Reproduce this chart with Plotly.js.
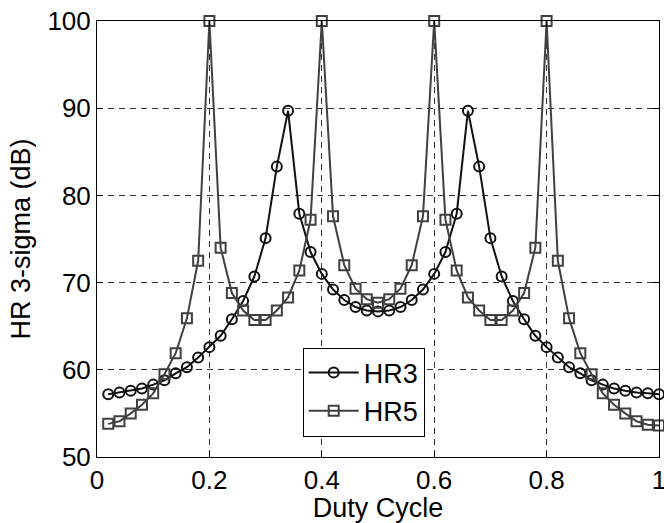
<!DOCTYPE html>
<html>
<head>
<meta charset="utf-8">
<script src="https://cdn.plot.ly/plotly-3.0.1.min.js"></script>
<style>html,body{margin:0;padding:0;background:#fff;}#chart{width:664px;height:523px;}</style>
</head>
<body>
<div id="chart"></div>
<script>
const dutyCycle = [0.02,0.04,0.06,0.08,0.10,0.12,0.14,0.16,0.18,0.20,
  0.22,0.24,0.26,0.28,0.30,0.32,0.34,0.36,0.38,0.40,
  0.42,0.44,0.46,0.48,0.50,0.52,0.54,0.56,0.58,0.60,
  0.62,0.64,0.66,0.68,0.70,0.72,0.74,0.76,0.78,0.80,
  0.82,0.84,0.86,0.88,0.90,0.92,0.94,0.96,0.98,1.00];
const hr3 = [57.2,57.4,57.6,57.85,58.3,58.8,59.6,60.3,61.4,62.6,
  63.9,65.8,67.9,70.7,75.1,83.3,89.7,77.9,73.5,71.0,
  69.2,68.0,67.2,66.8,66.7,66.8,67.2,68.0,69.2,71.0,
  73.5,77.9,89.7,83.3,75.1,70.7,67.9,65.8,63.9,62.6,
  61.4,60.3,59.6,58.8,58.3,57.85,57.6,57.4,57.3,57.2];
const hr5 = [53.8,54.1,55.0,56.0,57.3,59.5,61.9,65.9,72.5,100,
  74.0,68.8,66.8,65.7,65.7,66.8,68.3,71.4,77.2,100,
  77.6,72.0,69.3,68.1,67.7,68.1,69.3,72.0,77.6,100,
  77.2,71.4,68.3,66.8,65.7,65.7,66.8,68.8,74.0,100,
  72.5,65.9,61.9,59.5,57.3,56.0,55.0,54.1,53.7,53.6];
const seriesNames = ['HR3','HR5'];
const xTicks = [0,0.2,0.4,0.6,0.8,1];
const yTicks = [50,60,70,80,90,100];

const FONT = 'Arial, "Liberation Sans", sans-serif';
const traces = [
  {x: dutyCycle, y: hr3, name: seriesNames[0], type: 'scatter', mode: 'lines+markers',
   cliponaxis: false,
   line: {color: '#111111', width: 2},
   marker: {symbol: 'circle-open', size: 10, color: '#111111', line: {width: 2, color: '#111111'}}},
  {x: dutyCycle, y: hr5, name: seriesNames[1], type: 'scatter', mode: 'lines+markers',
   cliponaxis: false,
   line: {color: '#404040', width: 2},
   marker: {symbol: 'square-open', size: 10, color: '#404040', line: {width: 2, color: '#404040'}}}
];
const layout = {
  width: 664, height: 523,
  margin: {l: 97, r: 5, t: 21, b: 66},
  paper_bgcolor: '#fff', plot_bgcolor: '#fff',
  font: {family: FONT, size: 26, color: '#000'},
  showlegend: true,
  legend: {x: 0.366, y: 0.251, xanchor: 'left', yanchor: 'top',
    bgcolor: '#fff', bordercolor: '#000', borderwidth: 1, itemwidth: 50,
    font: {family: FONT, size: 27, color: '#000'}, tracegroupgap: 0},
  xaxis: {range: [0, 1], tickvals: xTicks, ticktext: xTicks.map(String),
    showline: true, mirror: 'ticks', linecolor: '#000', linewidth: 1,
    ticks: 'inside', ticklen: 6, tickcolor: '#000', ticklabeloverflow: 'allow',
    showgrid: true, gridcolor: '#333', gridwidth: 1, griddash: '6px,5px',
    zeroline: false, tickfont: {size: 26},
    title: {text: 'Duty Cycle', font: {size: 27}, standoff: 4}},
  yaxis: {range: [50, 100], tickvals: yTicks,
    showline: true, mirror: 'ticks', linecolor: '#000', linewidth: 1,
    ticks: 'inside', ticklen: 6, tickcolor: '#000',
    showgrid: true, gridcolor: '#333', gridwidth: 1, griddash: '6px,5px',
    zeroline: false, tickfont: {size: 26},
    title: {text: 'HR 3-sigma (dB)', font: {size: 27}, standoff: 8}}
};
Plotly.newPlot('chart', traces, layout, {displayModeBar: false, staticPlot: true});
</script>
</body>
</html>
